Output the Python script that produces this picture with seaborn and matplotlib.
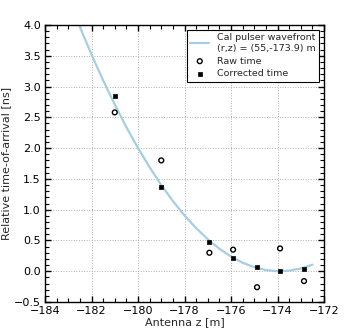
import matplotlib
matplotlib.use("Agg")
import matplotlib.pyplot as plt
import seaborn as sns
import numpy as np
from matplotlib.ticker import MultipleLocator

# Data
antenna_z = [-181.0, -179.0, -176.93, -175.91, -174.88, -173.89, -172.86]
raw_time = [2.58, 1.80, 0.30, 0.35, -0.26, 0.37, -0.16]
corrected_time = [2.84, 1.36, 0.48, 0.21, 0.07, 0.00, 0.04]

curve_z = [-183.0, -182.5, -182.0, -181.5, -181.0, -180.5, -180.0, -179.5,
           -179.0, -178.5, -178.0, -177.5, -177.0, -176.5, -176.0, -175.5,
           -175.0, -174.5, -174.0, -173.5, -173.0, -172.5]
curve_t = [4.44, 3.97, 3.52, 3.10, 2.71, 2.34, 2.00, 1.69,
           1.40, 1.14, 0.906, 0.70, 0.52, 0.365, 0.238, 0.138,
           0.065, 0.019, 0.0, 0.009, 0.044, 0.106]

xticks = [-184, -182, -180, -178, -176, -174, -172]
yticks = [-0.5, 0.0, 0.5, 1.0, 1.5, 2.0, 2.5, 3.0, 3.5, 4.0]

sns.set_style("ticks")
plt.rcParams['font.family'] = ['DejaVu Sans']
plt.rcParams['xtick.direction'] = 'in'
plt.rcParams['ytick.direction'] = 'in'
plt.rcParams['xtick.minor.visible'] = True
plt.rcParams['ytick.minor.visible'] = True

fig = plt.figure(figsize=(3.6, 3.28), dpi=100)
ax = fig.add_axes([0.125, 0.0793, 0.775, 0.8445])

sns.lineplot(x=curve_z, y=curve_t, ax=ax, color='#a6cee3', linewidth=1.6,
             label='Cal pulser wavefront\n(r,z) = (55,-173.9) m', sort=False)
sns.scatterplot(x=antenna_z, y=raw_time, ax=ax, marker='o', s=12,
                facecolor='none', edgecolor='black', linewidth=1.0,
                label='Raw time', zorder=3)
sns.scatterplot(x=antenna_z, y=corrected_time, ax=ax, marker='s', s=12,
                color='black', edgecolor='black', linewidth=0.5,
                label='Corrected time', zorder=3)

ax.set_xlim(-184, -172)
ax.set_ylim(-0.5, 4.0)
ax.set_xticks(xticks)
ax.set_yticks(yticks)
ax.set_xticklabels([f"\u2212{abs(v)}" for v in xticks])
ax.set_yticklabels([(f"\u2212{abs(v):.1f}" if v < 0 else f"{v:.1f}") for v in yticks])
ax.minorticks_on()
ax.xaxis.set_minor_locator(MultipleLocator(0.5))
ax.yaxis.set_minor_locator(MultipleLocator(0.1))
ax.tick_params(which='both', direction='in', top=True, right=True,
               bottom=True, left=True, labelsize=8, colors='black')
ax.tick_params(which='major', length=4.5, width=1.0, pad=3)
ax.tick_params(which='minor', length=3, width=0.8)
ax.grid(True, which='major', linestyle=':', color='#b0b0b0', linewidth=0.7)
ax.set_axisbelow('line')
for sp in ax.spines.values():
    sp.set_color('black')
    sp.set_linewidth(1.0)

ax.set_xlabel('Antenna z [m]', fontsize=8, labelpad=1)
ax.set_ylabel('Relative time-of-arrival [ns]', fontsize=8, labelpad=2)

leg = ax.legend(loc='upper right', fontsize=6.8, frameon=True, fancybox=False,
                scatterpoints=1, borderaxespad=0.5, handletextpad=0.8,
                labelspacing=0.4)
leg.get_frame().set_edgecolor('black')
leg.get_frame().set_linewidth(0.8)
leg.get_frame().set_alpha(1.0)

fig.savefig('out.png', dpi=100)
